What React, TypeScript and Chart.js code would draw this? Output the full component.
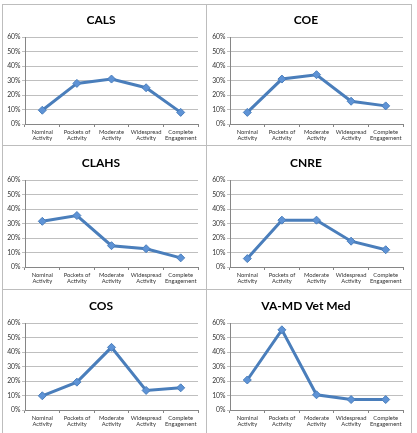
import React, { useEffect, useRef } from "react";
import { Chart, registerables } from "chart.js";

Chart.register(...registerables);

const categories: string[][] = [
  ["Nominal", "Activity"],
  ["Pockets of", "Activity"],
  ["Moderate", "Activity"],
  ["Widespread", "Activity"],
  ["Complete", "Engagement"],
];

const calsValues = [9.5, 28, 31, 25, 8];
const coeValues = [8, 31, 34, 15.7, 12.5];
const clahsValues = [31.5, 35.5, 14.7, 12.6, 6.3];
const cnreValues = [5.8, 32.3, 32.3, 17.8, 11.9];
const cosValues = [9.8, 19.2, 43.2, 13.5, 15.3];
const vetMedValues = [20.7, 55.3, 10.5, 7.2, 7.2];

const yTicks = [0, 10, 20, 30, 40, 50, 60];

const panels = [
  { title: "CALS", values: calsValues },
  { title: "COE", values: coeValues },
  { title: "CLAHS", values: clahsValues },
  { title: "CNRE", values: cnreValues },
  { title: "COS", values: cosValues },
  { title: "VA-MD Vet Med", values: vetMedValues },
];

const colLeft = [2, 207];
const rowTop = [2, 145, 288];
const PW = 204;
const PH = 143;

function Panel({ title, values, left, top }: { title: string; values: number[]; left: number; top: number }) {
  const ref = useRef<HTMLCanvasElement | null>(null);
  useEffect(() => {
    if (!ref.current) return;
    const chart = new Chart(ref.current, {
      type: "line",
      data: {
        labels: categories,
        datasets: [
          {
            data: values,
            borderColor: "#4A7EBB",
            borderWidth: 3,
            pointStyle: "rectRot",
            pointRadius: 4,
            pointBackgroundColor: "#5E93D6",
            pointBorderColor: "#4A7EBB",
            pointBorderWidth: 1,
            tension: 0,
          },
        ],
      },
      options: {
        responsive: false,
        animation: false,
        layout: { padding: { left: 2, right: 8, top: 0, bottom: 0 } },
        plugins: {
          legend: { display: false },
          tooltip: { enabled: false },
          title: {
            display: true,
            text: title,
            color: "#000",
            font: { family: "Lato", size: 12, weight: "bold", lineHeight: 1.2 },
            padding: { top: 10.8, bottom: 9.8 },
          },
        },
        scales: {
          x: {
            offset: true,
            grid: {
              offset: true,
              display: true,
              drawOnChartArea: false,
              drawTicks: true,
              tickLength: 3,
              color: "#868686",
            },
            border: { color: "#868686", width: 1 },
            ticks: {
              color: "#333",
              font: { family: "Lato", size: 5.8, lineHeight: 1.15 },
              padding: 1.5,
              maxRotation: 0,
              minRotation: 0,
              autoSkip: false,
            },
            afterFit: (s: any) => {
              s.height = 21;
            },
          },
          y: {
            min: 0,
            max: 60,
            afterBuildTicks: (s: any) => {
              s.ticks = yTicks.map((v) => ({ value: v }));
            },
            grid: { color: "#BFBFBF", tickLength: 3, lineWidth: 1 },
            border: { color: "#868686", width: 1 },
            ticks: {
              color: "#333",
              font: { family: "Lato", size: 6.8 },
              padding: 1.5,
              callback: (v: any) => v + "%",
            },
            afterFit: (s: any) => {
              s.width = 21;
            },
          },
        },
      },
    });
    return () => chart.destroy();
  }, [title, values]);
  return (
    <canvas
      ref={ref}
      width={PW}
      height={PH}
      style={{ position: "absolute", left, top, width: PW, height: PH }}
    />
  );
}

export default function App() {
  const lineColor = "#BDBDBD";
  return (
    <div style={{ position: "absolute", left: 0, top: 0, width: 417, height: 433, background: "#fff", overflow: "hidden" }}>
      {panels.map((p, i) => (
        <Panel key={p.title} title={p.title} values={p.values} left={colLeft[i % 2]} top={rowTop[Math.floor(i / 2)]} />
      ))}
      {[2, 206, 411].map((x) => (
        <div key={"v" + x} style={{ position: "absolute", left: x, top: 4, width: 1, height: 440, background: lineColor }} />
      ))}
      {[4, 145, 289].map((y) => (
        <div key={"h" + y} style={{ position: "absolute", left: 2, top: y, width: 410, height: 1, background: lineColor }} />
      ))}
    </div>
  );
}
